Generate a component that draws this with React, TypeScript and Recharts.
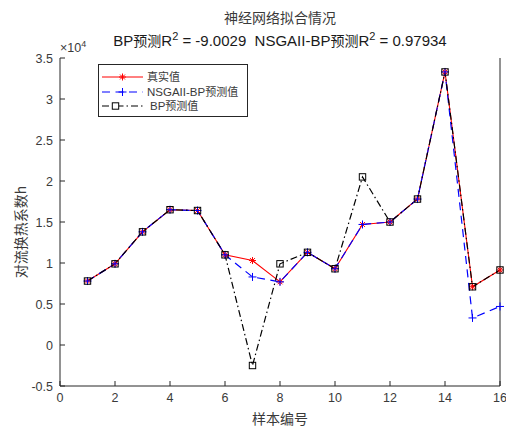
import React from 'react';
import { LineChart, Line, XAxis, YAxis } from 'recharts';

const samples = [1, 2, 3, 4, 5, 6, 7, 8, 9, 10, 11, 12, 13, 14, 15, 16];
const trueValues = [7800, 9900, 13800, 16500, 16400, 11000, 10300, 7700, 11300, 9300, 14700, 15000, 17800, 33300, 7100, 9150];
const nsgaValues = [7800, 9900, 13800, 16500, 16400, 11000, 8300, 7700, 11300, 9300, 14700, 15000, 17800, 33300, 3300, 4700];
const bpValues = [7800, 9900, 13800, 16500, 16400, 11000, -2500, 9900, 11300, 9300, 20500, 15000, 17800, 33300, 7100, 9150];
const xTicks = [0, 2, 4, 6, 8, 10, 12, 14, 16];
const yTicks = [-5000, 0, 5000, 10000, 15000, 20000, 25000, 30000, 35000];

const data = samples.map((s, i) => ({ x: s, t: trueValues[i], n: nsgaValues[i], b: bpValues[i] }));

const FONT = '"Liberation Sans", Arial, sans-serif';
const CJK = '"Noto Sans CJK SC", sans-serif';
const TEXT = '#3a3a3a';

const Star = (props: any) => {
  const { cx, cy } = props;
  if (cx == null || cy == null) return null;
  const r = 3.5;
  return (
    <g stroke="#ff0000" strokeWidth={1}>
      <line x1={cx - r} y1={cy} x2={cx + r} y2={cy} />
      <line x1={cx} y1={cy - r} x2={cx} y2={cy + r} />
      <line x1={cx - r * 0.7} y1={cy - r * 0.7} x2={cx + r * 0.7} y2={cy + r * 0.7} />
      <line x1={cx - r * 0.7} y1={cy + r * 0.7} x2={cx + r * 0.7} y2={cy - r * 0.7} />
    </g>
  );
};

const Plus = (props: any) => {
  const { cx, cy } = props;
  if (cx == null || cy == null) return null;
  const r = 4;
  return (
    <g stroke="#0000ff" strokeWidth={1}>
      <line x1={cx - r} y1={cy} x2={cx + r} y2={cy} />
      <line x1={cx} y1={cy - r} x2={cx} y2={cy + r} />
    </g>
  );
};

const Square = (props: any) => {
  const { cx, cy } = props;
  if (cx == null || cy == null) return null;
  const r = 3.2;
  return <rect x={cx - r} y={cy - r} width={2 * r} height={2 * r} fill="none" stroke="#000" strokeWidth={1} />;
};

const BottomTick = (props: any) => {
  const { x, y, payload } = props;
  return (
    <g>
      <line x1={x} y1={y} x2={x} y2={y - 5} stroke="#262626" strokeWidth={1} />
      <text x={x} y={y + 16} textAnchor="middle" fontFamily={FONT} fontSize={12.5} fill={TEXT}>
        {payload.value}
      </text>
    </g>
  );
};

const TopTick = (props: any) => {
  const { x, y } = props;
  return <line x1={x} y1={y} x2={x} y2={y + 5} stroke="#262626" strokeWidth={1} />;
};

const LeftTick = (props: any) => {
  const { x, y, payload } = props;
  return (
    <g>
      <line x1={x} y1={y} x2={x + 5} y2={y} stroke="#262626" strokeWidth={1} />
      <text x={x - 7} y={y + 4.5} textAnchor="end" fontFamily={FONT} fontSize={12.5} fill={TEXT}>
        {String(payload.value / 10000)}
      </text>
    </g>
  );
};

const RightTick = (props: any) => {
  const { x, y } = props;
  return <line x1={x} y1={y} x2={x - 5} y2={y} stroke="#262626" strokeWidth={1} />;
};

const Legend = () => (
  <svg width={150} height={54} style={{ position: 'absolute', left: 98, top: 64 }}>
    <rect x={0.5} y={0.5} width={149} height={52} fill="#fff" stroke="#262626" strokeWidth={1} />
    <line x1={4} y1={13} x2={45} y2={13} stroke="#ff0000" strokeWidth={1} />
    <Star cx={24.5} cy={13} />
    <text x={49} y={17} fontFamily={CJK} fontSize={11} fill={TEXT}>真实值</text>
    <line x1={4} y1={28} x2={45} y2={28} stroke="#0000ff" strokeWidth={1.2} strokeDasharray="8 5.5" />
    <Plus cx={24.5} cy={28} />
    <text x={49} y={32} fontFamily={FONT} fontSize={11.5} fill={TEXT}>
      NSGAII-BP<tspan fontFamily={CJK} fontSize={11}>预测值</tspan>
    </text>
    <line x1={4} y1={42} x2={45} y2={42} stroke="#000" strokeWidth={1.2} strokeDasharray="7 3 1.5 3" />
    <rect x={14} y={38.5} width={7} height={7} fill="#fff" stroke="none" />
    <Square cx={17.5} cy={42} />
    <text x={52} y={46} fontFamily={FONT} fontSize={11.5} fill={TEXT}>
      BP<tspan fontFamily={CJK} fontSize={11}>预测值</tspan>
    </text>
  </svg>
);

export default function App() {
  return (
    <div style={{ position: 'absolute', left: 0, top: 0, width: 506, height: 427, background: '#fff' }}>
      <LineChart width={506} height={427} data={data} margin={{ top: 58, right: 0, bottom: 11, left: 20 }}>
        <XAxis
          xAxisId="b"
          dataKey="x"
          type="number"
          domain={[0, 16]}
          ticks={xTicks}
          interval={0}
          height={30}
          axisLine={{ stroke: '#262626' }}
          tickLine={false}
          tickSize={0}
          tickMargin={0}
          tick={<BottomTick />}
        />
        <XAxis
          xAxisId="t"
          orientation="top"
          dataKey="x"
          type="number"
          domain={[0, 16]}
          ticks={xTicks}
          interval={0}
          height={0}
          axisLine={{ stroke: '#262626' }}
          tickLine={false}
          tickSize={0}
          tickMargin={0}
          tick={<TopTick />}
        />
        <YAxis
          yAxisId="l"
          type="number"
          domain={[-5000, 35000]}
          ticks={yTicks}
          interval={0}
          width={40}
          axisLine={{ stroke: '#262626' }}
          tickLine={false}
          tickSize={0}
          tickMargin={0}
          tick={<LeftTick />}
        />
        <YAxis
          yAxisId="r"
          orientation="right"
          type="number"
          domain={[-5000, 35000]}
          ticks={yTicks}
          interval={0}
          width={6}
          axisLine={{ stroke: '#262626' }}
          tickLine={false}
          tickSize={0}
          tickMargin={0}
          tick={<RightTick />}
        />
        <Line xAxisId="b" yAxisId="l" dataKey="t" stroke="#ff0000" strokeWidth={1.1} dot={<Star />} activeDot={false} isAnimationActive={false} />
        <Line xAxisId="b" yAxisId="l" dataKey="n" stroke="#0000ff" strokeWidth={1.2} strokeDasharray="8 5.5" dot={<Plus />} activeDot={false} isAnimationActive={false} />
        <Line xAxisId="b" yAxisId="l" dataKey="b" stroke="#000000" strokeWidth={1.2} strokeDasharray="7 3 1.5 3" dot={<Square />} activeDot={false} isAnimationActive={false} />
      </LineChart>
      <div style={{ position: 'absolute', left: 0, top: 9, width: 560, textAlign: 'center', fontFamily: CJK, fontSize: 14, color: TEXT, lineHeight: '16px' }}>
        神经网络拟合情况
      </div>
      <div style={{ position: 'absolute', left: 0, top: 31, width: 560, textAlign: 'center', fontFamily: FONT, fontSize: 15, color: '#1a1a1a', lineHeight: '18px', whiteSpace: 'pre' }}>
        BP<span style={{ fontFamily: CJK, fontSize: 14 }}>预测</span>R<sup style={{ fontSize: 11, lineHeight: 0 }}>2</sup>{' = -9.0029  NSGAII-BP'}<span style={{ fontFamily: CJK, fontSize: 14 }}>预测</span>R<sup style={{ fontSize: 11, lineHeight: 0 }}>2</sup>{' = 0.97934'}
      </div>
      <div style={{ position: 'absolute', left: 60, top: 42, fontFamily: FONT, fontSize: 12.5, color: TEXT, lineHeight: '12px' }}>
        ×10<sup style={{ fontSize: 9, lineHeight: 0 }}>4</sup>
      </div>
      <div style={{ position: 'absolute', left: 0, top: 410, width: 560, textAlign: 'center', fontFamily: CJK, fontSize: 14, color: TEXT, lineHeight: '16px' }}>
        样本编号
      </div>
      <div style={{ position: 'absolute', left: 20, top: 232, transform: 'translate(-50%, -50%) rotate(-90deg)', fontFamily: CJK, fontSize: 14, color: TEXT, whiteSpace: 'nowrap', lineHeight: '16px' }}>
        对流换热系数h
      </div>
      <Legend />
    </div>
  );
}
